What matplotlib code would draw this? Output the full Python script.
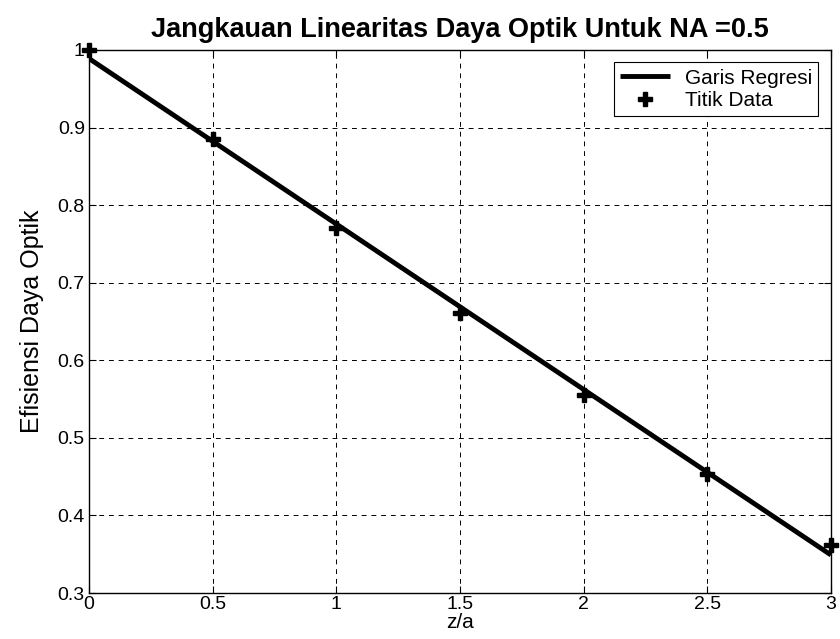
import matplotlib
matplotlib.use("Agg")
import matplotlib.pyplot as plt

# data
z_data = [0.0, 0.5, 1.0, 1.5, 2.0, 2.5, 3.0]
eff_data = [1.0, 0.885, 0.771, 0.661, 0.555, 0.454, 0.362]
reg_x = [0.0, 3.0]
reg_y = [0.989, 0.349]
xticks = [0, 0.5, 1, 1.5, 2, 2.5, 3]
xticklabels = ["0", "0.5", "1", "1.5", "2", "2.5", "3"]
yticks = [0.3, 0.4, 0.5, 0.6, 0.7, 0.8, 0.9, 1.0]
yticklabels = ["0.3", "0.4", "0.5", "0.6", "0.7", "0.8", "0.9", "1"]

plt.rcParams['font.family'] = ['Liberation Sans', 'DejaVu Sans']

fig = plt.figure(figsize=(8.4, 6.39), dpi=100)
ax = fig.add_axes([89/840, 46/639, (831-89)/840, (593-50)/639])

ax.plot(reg_x, reg_y, color='black', linewidth=3.5, label='Garis Regresi', solid_capstyle='butt')
ax.plot(z_data, eff_data, linestyle='none', marker='P', markersize=10, color='black',
        label='Titik Data', clip_on=False)

ax.set_xlim(0, 3)
ax.set_ylim(0.3, 1.0)
ax.set_xticks(xticks)
ax.set_xticklabels(xticklabels)
ax.set_yticks(yticks)
ax.set_yticklabels(yticklabels)
ax.tick_params(direction='in', length=5, width=0.8, top=True, right=True, labelsize=14, pad=3)
ax.tick_params(axis='x', pad=2)
ax.grid(True, color='black', linestyle=(0, (5, 5)), linewidth=0.7)
for s in ax.spines.values():
    s.set_linewidth(1.0)

ax.set_title('Jangkauan Linearitas Daya Optik Untuk NA =0.5', fontsize=19.5, fontweight='bold', pad=9)
ax.set_xlabel('z/a', fontsize=15, labelpad=0)
ax.set_ylabel('Efisiensi Daya Optik', fontsize=18, labelpad=10)

leg = ax.legend(loc='upper right', fontsize=15, frameon=True, fancybox=False,
                edgecolor='black', framealpha=1, borderpad=0.3, handlelength=2.4,
                handletextpad=0.7, borderaxespad=0.6, labelspacing=0.15)
leg.get_frame().set_linewidth(0.8)

fig.savefig('out.png', dpi=100)
